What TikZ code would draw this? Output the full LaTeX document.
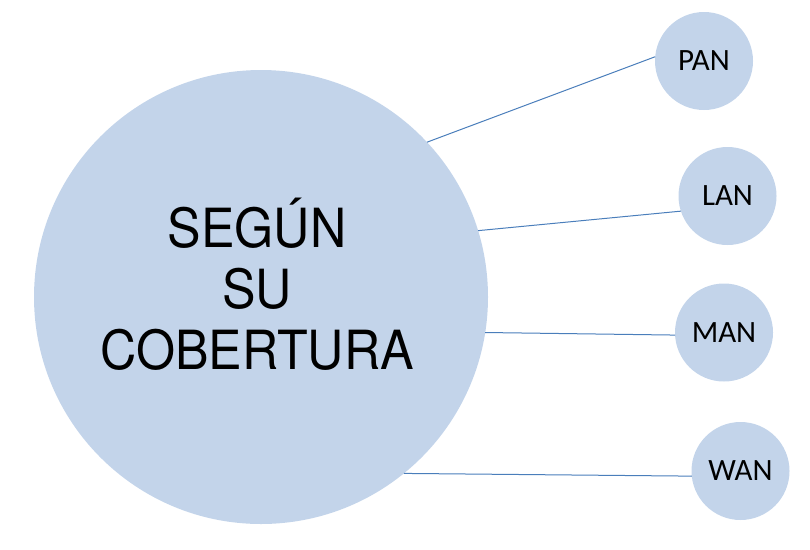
\documentclass[tikz,border=0pt]{standalone}
\usepackage{fontspec}
\setmainfont{Carlito}
\newfontfamily\titlefont{TeX Gyre Heros}
\definecolor{bubble}{HTML}{C3D4EA}
\definecolor{link}{HTML}{4A7EBB}
\begin{document}
\begin{tikzpicture}[x=1pt,y=-1pt,
  bubble/.style={circle,fill=bubble,draw=none,inner sep=0pt,outer sep=0pt},
  small/.style={bubble,minimum size=98pt,font=\fontsize{31}{33}\selectfont},
  link/.style={draw=link,line width=1pt}]
\useasboundingbox (0,0) rectangle (810,549);
\node[bubble,minimum size=454pt] (big) at (261,297) {};
\node[align=center,font=\titlefont\fontsize{54}{61}\selectfont] (title) at (257,284)
  {\scalebox{0.93}[1]{SEGÚN}\\\scalebox{0.93}[1]{SU}\\\scalebox{0.93}[1]{COBERTURA}};
\node[small] (pan) at (704,61) {PAN};
\node[small] (lan) at (727.5,196) {LAN};
\node[small] (man) at (724,332.5) {MAN};
\node[small] (wan) at (740.5,471) {WAN};
\draw[link] (big.43.2) -- (pan.175.3);
\draw[link] (big.17.6) -- (lan.198.4);
\draw[link] (big.-9.1) -- (man.183.4);
\draw[link] (big.-51.8) -- (wan.186.8);
\end{tikzpicture}
\end{document}
